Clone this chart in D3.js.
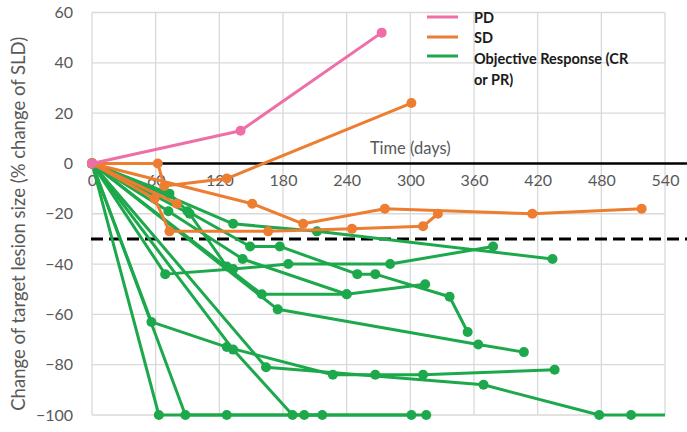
<!DOCTYPE html>
<html>
<head>
<meta charset="utf-8">
<script src="https://cdn.jsdelivr.net/npm/d3@7"></script>
<style>
  html, body { margin: 0; padding: 0; background: #fff; }
  svg { display: block; font-family: Lato, "Open Sans", sans-serif; }
</style>
</head>
<body>
<svg id="chart" width="687" height="432"></svg>
<script>
// Time ticks (days) and lesion-size ticks (% change of SLD)
const xTicks = [0, 60, 120, 180, 240, 300, 360, 420, 480, 540];
const yTicks = [60, 40, 20, 0, -20, -40, -60, -80, -100];
const responseThreshold = -30;

// Legend categories
const categories = ["PD", "SD", "Objective Response (CR or PR)"];
const categoryColors = ["#ef6ea8", "#ed7d31", "#1ca84b"];

// Progressive disease: [day, % change]
const pdSeries = [
  [[0, 0], [140, 13], [273, 52]]
];

// Stable disease
const sdSeries = [
  [[0, 0], [151, -16], [199, -24], [276, -18], [415, -20], [518, -18]],
  [[0, 0], [62, 0], [68, -9], [127, -6], [301, 24]],
  [[0, 0], [59, -14], [73, -27], [166, -27], [245, -26], [312, -25], [326, -20]],
  [[0, 0], [80, -16]]
];

// Objective response (CR or PR)
const orSeries = [
  [[0, 0], [63, -100], [127, -100], [217, -100]],
  [[0, 0], [88, -100], [200, -100], [301, -100]],
  [[0, 0], [56, -63], [127, -73], [227, -84], [267, -84], [312, -84], [436, -82]],
  [[0, 0], [133, -74], [189, -100], [315, -100]],
  [[0, 0], [164, -81], [369, -88], [478, -100], [508, -100]],
  [[0, 0], [133, -24], [212, -27], [434, -38]],
  [[0, 0], [69, -44], [133, -42], [185, -40], [281, -40], [378, -33]],
  [[0, 0], [160, -52], [240, -52], [314, -48]],
  [[0, 0], [175, -58], [364, -72], [407, -75]],
  [[0, 0], [73, -12], [90, -19], [149, -33], [177, -33], [250, -44], [267, -44], [337, -53], [354, -67]],
  [[0, 0], [72, -19], [142, -38], [240, -52]],
  [[0, 0], [92, -20], [127, -41]]
];
// Ongoing complete response carried to the end of follow-up (no assessment marker)
const ongoingCR = [[508, -100], [540, -100]];

const svg = d3.select("#chart");
const W = 687;

const x = d3.scaleLinear().domain([0, 540]).range([92, 665]);
const y = d3.scaleLinear().domain([-100, 60]).range([415, 12.5]);

const gridColor = "#d9d9d9";
const tickColor = "#595959";

// Gridlines
svg.append("g").selectAll("line").data(yTicks).join("line")
  .attr("x1", x(0)).attr("x2", x(540))
  .attr("y1", d => y(d)).attr("y2", d => y(d))
  .attr("stroke", gridColor).attr("stroke-width", 1.3);
svg.append("g").selectAll("line").data(xTicks).join("line")
  .attr("x1", d => x(d)).attr("x2", d => x(d))
  .attr("y1", y(60)).attr("y2", y(-100))
  .attr("stroke", gridColor).attr("stroke-width", 1.3);

// Y axis labels
const yAxis = d3.axisLeft(y).tickValues(yTicks).tickSize(0).tickPadding(0);
const gy = svg.append("g").attr("transform", "translate(73,0)").call(yAxis);
gy.select(".domain").remove();
gy.selectAll("text").attr("fill", tickColor).attr("font-size", 16)
  .attr("font-family", "Lato, 'Open Sans', sans-serif");

// X axis labels sit just under the zero line
const xAxis = d3.axisBottom(x).tickValues(xTicks).tickSize(0).tickPadding(0);
const gx = svg.append("g").attr("transform", `translate(0,${y(0) + 17})`).call(xAxis);
gx.select(".domain").remove();
gx.selectAll("text").attr("fill", tickColor).attr("font-size", 16)
  .attr("font-family", "Lato, 'Open Sans', sans-serif")
  .attr("dy", "0.32em");

// Axis titles
svg.append("text")
  .attr("transform", `translate(18,${(y(60) + y(-100)) / 2 + 10}) rotate(-90)`)
  .attr("text-anchor", "middle").attr("dominant-baseline", "central")
  .attr("fill", tickColor).attr("font-size", 18.5)
  .text("Change of target lesion size (% change of SLD)");

svg.append("text")
  .attr("x", x(300)).attr("y", y(0) - 15)
  .attr("text-anchor", "middle").attr("dominant-baseline", "central")
  .attr("fill", tickColor).attr("font-size", 16.5)
  .text("Time (days)");

// Reference lines: baseline and -30% response threshold
svg.append("line")
  .attr("x1", x(0) - 1).attr("x2", W).attr("y1", y(0)).attr("y2", y(0))
  .attr("stroke", "#000").attr("stroke-width", 2.6);
svg.append("line")
  .attr("x1", x(0) - 1).attr("x2", W).attr("y1", y(responseThreshold)).attr("y2", y(responseThreshold))
  .attr("stroke", "#000").attr("stroke-width", 3).attr("stroke-dasharray", "12,6");

const line = d3.line().x(d => x(d[0])).y(d => y(d[1]));

function drawGroup(seriesList, color) {
  const g = svg.append("g");
  g.selectAll("path").data(seriesList).join("path")
    .attr("d", line).attr("fill", "none")
    .attr("stroke", color).attr("stroke-width", 3).attr("stroke-linejoin", "round");
  g.selectAll("circle").data(seriesList.flat()).join("circle")
    .attr("cx", d => x(d[0])).attr("cy", d => y(d[1])).attr("r", 5)
    .attr("fill", color);
  return g;
}

const orG = drawGroup(orSeries, categoryColors[2]);
orG.append("path").datum(ongoingCR).attr("d", line).attr("fill", "none")
  .attr("stroke", categoryColors[2]).attr("stroke-width", 3);
drawGroup(sdSeries, categoryColors[1]);
drawGroup(pdSeries, categoryColors[0]);

// Legend
const legend = svg.append("g");
const legendY = [17, 37, 56];
categories.forEach((c, i) => {
  legend.append("line")
    .attr("x1", 427).attr("x2", 458).attr("y1", legendY[i]).attr("y2", legendY[i])
    .attr("stroke", categoryColors[i]).attr("stroke-width", 3);
});
const legendText = legend.append("g")
  .attr("font-size", 14.5).attr("font-weight", "bold").attr("fill", "#1a1a1a");
legendText.append("text").attr("x", 474).attr("y", legendY[0]).attr("dominant-baseline", "central").text("PD");
legendText.append("text").attr("x", 474).attr("y", legendY[1]).attr("dominant-baseline", "central").text("SD");
legendText.append("text").attr("x", 474).attr("y", legendY[2] + 2).attr("dominant-baseline", "central").text("Objective Response (CR");
legendText.append("text").attr("x", 474).attr("y", legendY[2] + 23).attr("dominant-baseline", "central").text("or PR)");
</script>
</body>
</html>
